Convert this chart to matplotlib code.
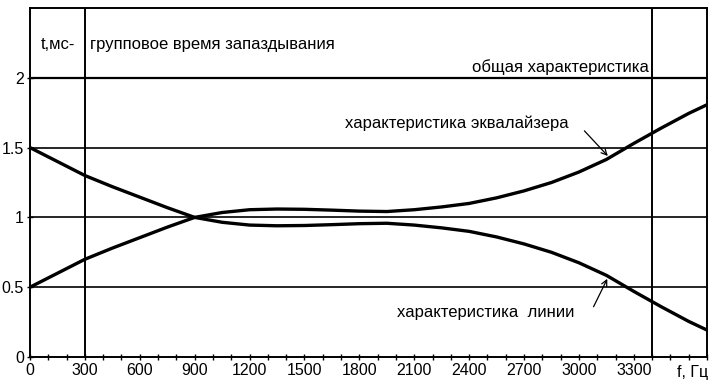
import numpy as np
import matplotlib.pyplot as plt

plt.rcParams['font.family'] = ['Liberation Sans', 'DejaVu Sans']

# частота, Гц
f_hz = [0, 150, 300, 450, 600, 750, 900, 1050, 1200, 1350, 1500, 1650, 1800,
        1950, 2100, 2250, 2400, 2550, 2700, 2850, 3000, 3150, 3300, 3450, 3600, 3700]
# характеристика линии, мс
t_line = [1.5, 1.40, 1.30, 1.22, 1.145, 1.07, 1.0, 0.965, 0.945, 0.94, 0.942, 0.948, 0.955,
          0.958, 0.945, 0.925, 0.90, 0.86, 0.81, 0.75, 0.675, 0.585, 0.47, 0.36, 0.255, 0.193]
# характеристика эквалайзера, мс
t_eq = [0.5, 0.60, 0.70, 0.78, 0.855, 0.93, 1.0, 1.035, 1.055, 1.06, 1.058, 1.052, 1.045,
        1.042, 1.055, 1.075, 1.10, 1.14, 1.19, 1.25, 1.325, 1.415, 1.53, 1.64, 1.745, 1.807]
# общая характеристика
t_total = 2.0

x_major = [0, 300, 600, 900, 1200, 1500, 1800, 2100, 2400, 2700, 3000, 3300]
y_major = [0, 0.5, 1, 1.5, 2]
y_labels = ['0', '0.5', '1', '1.5', '2']

num_font = ['Liberation Sans Narrow', 'Liberation Sans']

fig = plt.figure(figsize=(7.24, 3.88), dpi=100)
ax = fig.add_axes([30/724, 31/388, 677/724, 349/388])

ax.set_xlim(0, 3700)
ax.set_ylim(0, 2.5)

# сетка
for y in [0.5, 1, 1.5]:
	ax.axhline(y, color='black', lw=1.2, zorder=1)
ax.axhline(t_total, color='black', lw=1.6, zorder=1)
for x in [300, 3400]:
	ax.axvline(x, color='black', lw=1.4, zorder=1)

ax.plot(f_hz, t_line, color='black', lw=2.4, solid_capstyle='butt', zorder=3)
ax.plot(f_hz, t_eq, color='black', lw=2.4, solid_capstyle='butt', zorder=3)

for s in ax.spines.values():
	s.set_linewidth(1.4)

ax.set_xticks(x_major)
ax.set_xticklabels([str(v) for v in x_major], fontsize=11.5, family=num_font)
ax.set_xticks(np.arange(0, 3701, 100), minor=True)
ax.set_yticks(y_major)
ax.set_yticklabels(y_labels, fontsize=11.5, family=num_font)
ax.tick_params(axis='x', which='both', direction='inout', length=5, width=1, pad=2, top=False)
ax.tick_params(axis='y', which='both', direction='inout', length=5, width=1, pad=2, right=False)

fs = 12
ax.text(150, 2.24, 't,мс-', ha='center', va='center', fontsize=fs)
ax.text(330, 2.24, 'групповое время запаздывания', ha='left', va='center', fontsize=fs)
ax.text(3385, 2.08, 'общая характеристика', ha='right', va='center', fontsize=fs)
ax.text(2945, 1.62, 'характеристика эквалайзера', ha='right', va='bottom', fontsize=fs)
ax.text(2975, 0.32, 'характеристика  линии', ha='right', va='center', fontsize=fs)
ax.text(3620, -0.11, 'f, Гц', ha='center', va='center', fontsize=11.5, family=num_font)

ax.annotate('', xy=(3158, 1.44), xytext=(3030, 1.62),
            arrowprops=dict(arrowstyle='->', color='black', lw=0.9, shrinkA=0, shrinkB=0))
ax.annotate('', xy=(3155, 0.56), xytext=(3080, 0.36),
            arrowprops=dict(arrowstyle='->', color='black', lw=0.9, shrinkA=0, shrinkB=0))

fig.savefig('out.png', dpi=100)
